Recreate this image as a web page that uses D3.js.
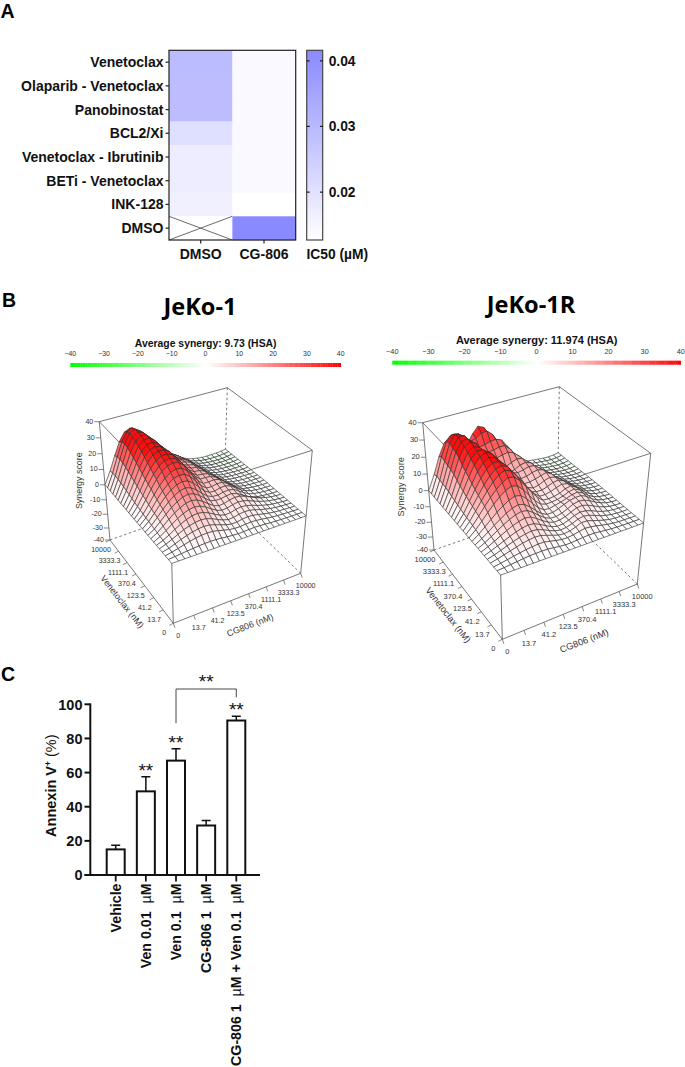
<!DOCTYPE html>
<html><head><meta charset="utf-8">
<script src="https://cdn.jsdelivr.net/npm/d3@7/dist/d3.min.js"></script>
<style>html,body{margin:0;padding:0;background:#fff}svg{display:block}text{font-family:"Liberation Sans",Arial,sans-serif}</style>
</head><body><svg id="c" width="685" height="1067"></svg>
<script>
// Panel A
const heatRows=["Venetoclax","Olaparib - Venetoclax","Panobinostat","BCL2/Xi","Venetoclax - Ibrutinib","BETi - Venetoclax","INK-128","DMSO"];
const heatCols=["DMSO","CG-806"];
const ic50Dmso=[0.0295,0.0292,0.0292,0.0205,0.0172,0.0172,0.0165,null];
const ic50Cg806=[0.0142,0.0142,0.0142,0.0142,0.0142,0.0142,0.0128,0.0416];
const ic50Ticks=[0.02,0.03,0.04];
// Panel B
const doseLabels=["0","13.7","41.2","123.5","370.4","1111.1","3333.3","10000"];
const synergyTicks=[-40,-30,-20,-10,0,10,20,30,40];
const jeko1Scores=[
[0,0,0,0,0,0,0,0,0,0,0,0,0,0,0,0,0,0,0,0,0,0,0,0,0],
[0,.3,.7,1.1,1.4,1.7,1.9,2,1.9,1.6,1.2,.9,.7,.8,1,1.1,1,.8,.5,.3,.2,.1,0,0,0],
[0,.8,1.7,2.7,3.6,4.3,4.8,5,4.8,4.1,3.2,2.4,1.9,1.9,2.2,2.4,2.2,1.8,1.3,.9,.6,.4,.2,.1,0],
[0,1,2.4,3.8,5,6,6.7,7,6.7,5.7,4.5,3.3,2.6,2.7,3.3,3.7,3.4,2.8,2,1.3,.8,.5,.3,.1,0],
[0,1.4,3.1,4.9,6.5,7.7,8.6,9,8.6,7.4,5.8,4.3,3.4,3.6,4.4,4.9,4.6,3.8,2.8,1.9,1.2,.7,.4,.2,0],
[0,1.7,3.7,5.9,7.9,9.5,10.6,11,10.5,9,7.1,5.3,4.3,4.6,5.5,6,5.6,4.7,3.5,2.4,1.5,.9,.5,.2,0],
[0,2,4.4,7,9.4,11.2,12.5,13,12.4,10.7,8.5,6.4,5.3,5.6,6.5,7.1,6.7,5.7,4.3,3,1.9,1.1,.6,.2,0],
[0,2.3,5.1,8.1,10.8,12.9,14.4,15,14.3,12.3,9.8,7.5,6.2,6.5,7.5,8.1,7.8,6.6,5,3.5,2.2,1.3,.6,.2,0],
[0,2.6,5.8,9.2,12.2,14.6,16.3,17,16.2,14,11.2,8.6,7.6,7.6,8.3,8.6,7.6,5.6,3.6,2,1.1,.6,.3,.1,0],
[0,2.9,6.5,10.3,13.7,16.3,18.2,19,18,15.6,12.5,9.6,8.2,8,8.7,9,8.3,6.2,4,2.2,1.2,.7,.3,.1,0],
[0,3.2,7.1,11.3,15.1,18,20.1,21,20.4,18,14.6,11,8.9,8.7,9.6,9.8,8.6,6.4,4,2.2,1.2,.6,.3,.1,0],
[0,3.5,7.8,12.4,16.6,19.8,22.1,23,22.6,20.2,16.4,12.4,9.8,9.6,10.3,10.2,8.4,5.9,3.5,1.8,1,.5,.2,0,0],
[0,3.8,8.5,13.5,18,21.5,24,25,24.6,22,18,13.6,10.8,10.7,11,10.2,7.9,5.1,2.8,1.4,.7,.3,.1,0,0],
[0,4.3,9.6,15.1,20,23.8,26.2,27,26.4,23.4,19,14.6,11.7,11.7,11.3,9.7,7,4.3,2.2,1,.4,.1,0,-.1,-.1],
[0,4.7,10.4,16.2,21.4,25.2,27.4,28,27,23.8,19.2,14.8,12.3,12,11.2,9.1,6.2,3.6,1.7,.7,.2,-.1,-.2,-.3,-.3],
[0,5.2,11.3,17.5,23,26.8,28.8,29,27.6,24,19.2,15,12.8,12.5,11,8.4,5.4,3,1.3,.4,0,-.3,-.4,-.5,-.4],
[0,5.8,12.4,19,24.7,28.5,30,29.7,27.8,23.6,19,15,13.2,12.7,10.6,7.6,4.6,2.4,.9,.1,-.2,-.5,-.6,-.7,-.5],
[0,6.3,13.4,20.5,26.4,30,31,30,27,22.4,17.9,14.5,13.3,12.5,10,6.8,3.9,1.8,.5,-.2,-.5,-.7,-.8,-.9,-.6],
[0,6.8,14.5,22,28,31.4,32,30.2,26.6,21.8,17.3,14.2,13.5,12.3,9.6,6.3,3.4,1.4,.2,-.4,-.8,-1,-1,-1,-.7],
[0,7.4,15.7,23.6,29.6,32.6,32.8,30.2,26,20.9,16.5,13.7,13,11.8,9,5.7,2.9,1,-.1,-.7,-1,-1.2,-1.2,-1.1,-.8],
[0,7.8,16.6,24.8,30.7,33.5,33,29.6,24.9,19.8,15.4,13,12,10.8,8.1,5,2.4,.6,-.4,-1,-1.3,-1.4,-1.4,-1.3,-.9],
[0,8.2,17.5,26,31.8,34,32.6,28.6,23.4,18.2,14.2,12,11,9.9,7.3,4.3,1.8,.2,-.7,-1.3,-1.5,-1.6,-1.6,-1.4,-1],
[0,8.5,18,26.7,32.3,34,31.8,27,21.7,16.6,12.9,11,10,8.9,6.4,3.6,1.3,-.1,-1,-1.5,-1.8,-1.9,-1.9,-1.6,-1.1],
[0,8.3,17.6,26,31.4,33,30.6,25.6,20,15,11.5,9.8,9,7.8,5.4,2.8,.8,-.4,-1.2,-1.7,-2,-2,-2,-1.7,-1.2],
[0,7.8,16.5,24.4,29.5,31,28.6,23.6,18,13.2,9.9,8.4,8,6.6,4.4,2,.3,-.7,-1.4,-1.9,-2.1,-2.1,-2,-1.8,-1.3]];
const jeko1RScores=[
[0,0,0,0,0,0,0,0,0,0,0,0,0,0,0,0,0,0,0,0,0,0,0,0,0],
[0,.3,.7,1.1,1.5,1.8,1.9,2,1.9,1.5,1,.7,.7,1,1.3,1.5,1.4,1.1,.7,.4,.2,.1,0,0,0],
[0,.6,1.3,2,2.6,3.2,3.6,3.9,3.9,3.1,2.3,1.7,1.6,2,2.8,3.4,3.1,2.5,1.7,1,.5,.2,.1,0,0],
[0,.9,1.9,2.9,3.9,4.8,5.4,5.8,5.6,4.5,3.3,2.2,1.8,2.2,3.4,4.8,4.6,3.6,2.5,1.5,.7,.3,.1,0,0],
[0,1.1,2.4,3.7,4.9,6,6.8,7.3,7,5.7,4.1,2.7,2,2.3,3.4,4.8,5.4,4.8,3.5,2.2,1.2,.5,.2,0,0],
[0,1.4,2.9,4.4,5.9,7.2,8.2,8.8,8.4,6.8,4.9,3.2,2.2,2.4,3.5,5,5.9,5.5,4.4,2.9,1.7,.8,.3,.1,0],
[0,1.7,3.5,5.4,7.2,8.8,10,10.8,10.3,8.3,5.9,3.8,2.6,2.7,3.6,5.1,6.5,6.8,5.8,4.2,2.6,1.3,.5,.1,0],
[0,2,4.2,6.4,8.5,10.4,11.9,12.7,12.1,9.8,7,4.5,3,2.9,3.7,5.2,6.8,7.5,6.9,5.4,3.5,1.9,.8,.2,0],
[0,2.3,4.8,7.4,9.8,12,13.7,14.7,13.8,11.2,8,5,3.4,3.4,4.5,5.9,7.2,7.8,7.8,6.2,3.6,1.8,.8,.3,0],
[0,2.8,5.8,8.9,11.8,14.4,16.4,17.7,17,14,10.2,6.6,4.2,3.8,4.6,5.4,6.4,7.6,8,6.4,3.8,1.9,.8,.3,0],
[0,3.4,7.1,10.9,14.5,17.6,20.1,21.6,20.6,17.3,13,8.8,5.7,4.5,4.7,5.1,6,7.4,8,6.4,3.9,1.9,.8,.3,0],
[0,3.8,8.1,12.4,16.5,20,22.8,24.6,23.9,20.8,16.5,11.9,7.9,5,4.7,5,5.8,7.4,8,6.2,3.7,1.8,.7,.2,0],
[0,4.2,9,13.8,18.4,22.4,25.2,27,25.6,22,17.3,12.4,8.2,5.4,5.4,6.1,7.3,8.3,7.6,5.4,3,1.4,.5,.1,0],
[0,4.5,9.8,15,19.9,24,26.8,28,26.4,22,16.5,11.5,7.5,6.3,6.2,7.2,8.6,9,7.4,4.8,2.4,1,.3,0,-.1],
[0,4.9,10.8,16.5,21.9,26,28.5,28.5,25.8,20.7,15.4,10.7,8,6.7,7.3,8.9,9.8,9,6.6,3.8,1.8,.6,.1,-.2,-.2],
[0,5.4,11.7,18,23.8,27.8,30,29,25.5,20,14.9,10.2,8.5,8.4,9.2,10.1,11,9,5.8,3,1.3,.3,-.1,-.4,-.3],
[0,6,12.9,19.8,25.8,29.6,31,29.5,25.4,19.8,15.1,11.7,9.7,10,11.2,11.8,10.8,8,4.8,2.3,.8,0,-.4,-.6,-.4],
[0,6.6,14,21.4,27.5,31,31,28.5,24,18.6,14.8,12.1,11.4,12,13,12.6,10,6.6,3.6,1.6,.3,-.3,-.7,-.8,-.6],
[0,7.2,15.4,23,29.4,32,30.4,26,20.5,15.9,12.4,10.6,11.3,13.1,13.7,12.4,9,5.6,2.8,1,0,-.6,-.9,-1,-.7],
[0,8,17,25.5,31,33,31,25,20.5,15.9,12.8,12.5,13.7,15,14.4,11.4,7.6,4.2,1.8,.4,-.4,-.9,-1.2,-1.2,-.8],
[0,8.5,18,27,32,33,29.7,23.4,20.4,17.5,16.8,17.6,18.2,17,14,10,6,3,1.2,-.1,-.8,-1.2,-1.4,-1.3,-.9],
[0,8.7,18.5,27.5,33,33,29,23,20.6,19.4,19.6,20.5,20.4,17.4,12.6,8.2,4.6,2.2,.6,-.4,-1,-1.4,-1.6,-1.5,-1],
[0,8.9,19,28.5,33,31.4,27,23,21.5,22,23,23.4,22,17.5,12,6.8,3.6,1.5,.2,-.7,-1.3,-1.7,-1.8,-1.6,-1.1],
[0,9.5,20,28,31,30.5,27,24,25,27,27.5,24.5,18.5,12.5,7.5,3.5,1.4,.3,-.3,-.8,-1.2,-1.6,-1.9,-1.7,-1.2],
[0,8.5,18,25,28,26.5,22,21,26,29.5,28,21,13.5,8,4.5,2.2,.8,0,-.5,-1,-1.4,-1.8,-2,-1.8,-1.3]];
// Panel C
const barLabels=["Vehicle","Ven 0.01  µM","Ven 0.1  µM","CG-806 1  µM","CG-806 1  µM + Ven 0.1  µM"];
const annexinMeans=[15,49,67,29,90.5];
const annexinUpper=[17.5,57.5,74,32,93];
const annexinStars=["","**","**","",  "**"];
const annexinTicks=[0,20,40,60,80,100];

const svg=d3.select("#c");
const bold=(sel,size)=>sel.attr("font-weight","bold").attr("font-size",size).attr("fill","#111");
[["A",.5,18],["B",2,307],["C",1,681]].forEach(([t,x,y])=>svg.append("text").text(t).attr("x",x).attr("y",y)
  .attr("font-weight","bold").attr("font-size",19.5).attr("fill","#000"));

/* ---- Panel A ---- */
{
 const x=d3.scaleBand().domain(heatCols).range([169,295.7]);
 const y=d3.scaleBand().domain(heatRows).range([50.3,240]);
 const c=d3.scaleLinear().domain([0.0127,0.0416]).range(["#ffffff","#8a8aff"]);
 const g=svg.append("g");
 heatRows.forEach((r,i)=>{
  [ic50Dmso[i],ic50Cg806[i]].forEach((v,k)=>{
   const X=x(heatCols[k]),Y=y(r);
   g.append("rect").attr("x",X).attr("y",Y).attr("width",x.bandwidth()+.3).attr("height",y.bandwidth()+.3).attr("fill",v==null?"#fff":c(v));
   if(v==null){
    g.append("path").attr("d",`M${X},${Y}L${X+x.bandwidth()},${Y+y.bandwidth()}M${X},${Y+y.bandwidth()}L${X+x.bandwidth()},${Y}`).attr("stroke","#444").attr("stroke-width",.8).attr("fill","none");
   }
  });
  g.append("line").attr("x1",165.5).attr("x2",169).attr("y1",y(r)+y.bandwidth()/2).attr("y2",y(r)+y.bandwidth()/2).attr("stroke","#222").attr("stroke-width",1.2);
  g.append("text").text(r).attr("x",163.5).attr("y",y(r)+y.bandwidth()/2).attr("dy",".36em").attr("text-anchor","end").call(bold,14);
 });
 heatCols.forEach(k=>{
  const cx=x(k)+x.bandwidth()/2;
  g.append("line").attr("x1",cx).attr("x2",cx).attr("y1",240).attr("y2",243.5).attr("stroke","#222").attr("stroke-width",1.2);
  g.append("text").text(k).attr("x",cx).attr("y",254).attr("dy",".36em").attr("text-anchor","middle").call(bold,14);
 });
 g.append("rect").attr("x",169).attr("y",50.3).attr("width",126.7).attr("height",189.7).attr("fill","none").attr("stroke","#222").attr("stroke-width",1.2);
 const cy=d3.scaleLinear().domain([0.0127,0.0416]).range([240,50.3]);
 const gradId="icGrad";
 const grad=svg.append("defs").append("linearGradient").attr("id",gradId).attr("x1",0).attr("x2",0).attr("y1",1).attr("y2",0);
 grad.append("stop").attr("offset",0).attr("stop-color","#ffffff");
 grad.append("stop").attr("offset",1).attr("stop-color","#8a8aff");
 g.append("rect").attr("x",306.7).attr("y",50.3).attr("width",16).attr("height",189.7).attr("fill",`url(#${gradId})`).attr("stroke","#444").attr("stroke-width",1.2);
 ic50Ticks.forEach(t=>{
  g.append("path").attr("d",`M306.7,${cy(t)}h3M320,${cy(t)}h3`).attr("stroke","#222").attr("stroke-width",1.2);
  g.append("text").text(t.toFixed(2)).attr("x",328.7).attr("y",cy(t)).attr("dy",".36em").call(bold,13.8);
 });
 g.append("text").text("IC50 (µM)").attr("x",337.3).attr("y",254).attr("dy",".36em").attr("text-anchor","middle").call(bold,13.8);
}

/* ---- Panel B ---- */
const keyColor=d3.scaleLinear().domain([-40,0,40]).range(["#00ff00","#ffffff","#ff0000"]);
const warm=d3.scalePow().exponent(1.35).domain([0,29]).range(["#ffffff","#ff0c0c"]).clamp(true);
const cool=d3.scaleLinear().domain([0,-14]).range(["#ffffff","#99ff99"]).clamp(true);
const cellColor=z=>z>=0?warm(z):cool(z);
function surface(o){
 const g=svg.append("g");
 const n=o.scores.length-1;
 const cellU=d3.scalePow().exponent(.94).domain([0,n]).range([0,1]);
 const doseU=d3.scalePow().exponent(.94).domain([0,doseLabels.length-1]).range([0,1]);
 const zS=d3.scalePow().exponent(1.1).domain([0,80]).range([0,1]);
 const lerp=(a,b,t)=>[a[0]+(b[0]-a[0])*t,a[1]+(b[1]-a[1])*t];
 const P=(u,v,z)=>{
  const t=zS(z+40),k=o.box;
  const lo=lerp(lerp(k.A,k.B,u),lerp(k.C,k.D,u),v);
  const hi=lerp(lerp(k.H,k.G,u),lerp(k.E,k.F,u),v);
  return lerp(lo,hi,t);
 };
 const line=(a,b,dash)=>g.append("line").attr("x1",a[0]).attr("y1",a[1]).attr("x2",b[0]).attr("y2",b[1])
   .attr("stroke","#555").attr("stroke-width",.8).attr("stroke-dasharray",dash?"2.5,2.5":null);
 const k=o.box;
 line(k.C,k.D,1);line(k.B,k.D,1);line(k.F,k.D,1);
 line(k.E,k.F);line(k.F,k.G);line(k.G,k.H);line(k.E,k.H);line(k.C,k.E);line(k.B,k.G);line(k.A,k.C);line(k.A,k.B);line(k.A,k.H);
 const cells=[];
 for(let j=0;j<n;j++)for(let i=0;i<n;i++)cells.push([i,j]);
 cells.sort((a,b)=>(b[0]+b[1])-(a[0]+a[1]));
 const s=o.scores;
 g.selectAll("path.cell").data(cells).join("path").attr("class","cell")
  .attr("d",([i,j])=>{
   const q=[[i,j],[i+1,j],[i+1,j+1],[i,j+1]].map(([a,b])=>P(cellU(a),cellU(b),s[b][a]));
   return "M"+q.map(p=>p[0].toFixed(2)+","+p[1].toFixed(2)).join("L")+"Z";
  })
  .attr("fill",([i,j])=>cellColor((s[j][i]+s[j][i+1]+s[j+1][i]+s[j+1][i+1])/4))
  .attr("stroke","#2e2e2e").attr("stroke-width",.62).attr("stroke-linejoin","round");
 const small=(sel)=>sel.attr("font-size",o.fs).attr("fill","#333");
 synergyTicks.forEach(t=>{
  const p=P(0,1,t);
  g.append("line").attr("x1",p[0]-5).attr("x2",p[0]).attr("y1",p[1]).attr("y2",p[1]).attr("stroke","#555").attr("stroke-width",.7);
  g.append("text").text(t).attr("x",p[0]-6).attr("y",p[1]-.5).attr("dy",".35em").attr("text-anchor","end").call(small);
 });
 doseLabels.forEach((d,i)=>{
  const u=doseU(i);
  const px=P(u,0,-40), py=P(0,u,-40);
  g.append("line").attr("x1",px[0]).attr("y1",px[1]).attr("x2",px[0]+1.6).attr("y2",px[1]+4.5).attr("stroke","#555").attr("stroke-width",.7);
  g.append("line").attr("x1",py[0]).attr("y1",py[1]).attr("x2",py[0]-4).attr("y2",py[1]+2).attr("stroke","#555").attr("stroke-width",.7);
  g.append("text").text(d).attr("x",px[0]+5).attr("y",px[1]+12.5).attr("dy",".35em").attr("text-anchor","middle").call(small);
  g.append("text").text(d).attr("x",py[0]-9).attr("y",py[1]+9.5).attr("dy",".35em").attr("text-anchor","middle").call(small);
 });
 const rot=(t,c,a)=>g.append("text").text(t).attr("transform",`translate(${c[0]},${c[1]}) rotate(${a})`).attr("text-anchor","middle").attr("dy",".35em").attr("font-size",o.fs+1.8).attr("fill","#333");
 rot("Synergy score",o.zTitle,-90);
 rot("Venetoclax (nM)",o.yTitle,52);
 rot("CG806 (nM)",o.xTitle,-21);
 g.append("text").text(o.name).attr("x",o.nameX).attr("y",o.nameY).attr("text-anchor","middle").style("font-family","'Open Sans'").attr("font-weight","bold").attr("font-size",23.6).attr("fill","#000");
 g.append("text").text(o.title).attr("x",o.titleX).attr("y",o.titleY).attr("dy",".35em").attr("text-anchor","middle").attr("font-weight","bold").attr("font-size",o.titleSize).attr("fill","#111");
 const kx=d3.scaleLinear().domain([-40,40]).range(o.keyX);
 const vals=d3.range(-40,40,.5);
 g.selectAll("rect.key").data(vals).join("rect").attr("class","key").attr("x",d=>kx(d)).attr("y",o.keyY).attr("width",kx(.5)-kx(0)+.3).attr("height",4).attr("fill",d=>keyColor(d));
 synergyTicks.forEach(t=>g.append("text").text(t<0?"−"+Math.abs(t):t).attr("x",kx(t)).attr("y",o.keyY-9).attr("dy",".35em").attr("text-anchor","middle").attr("font-size",o.fs-.2).attr("fill","#333"));
}
surface({scores:jeko1Scores,name:"JeKo-1",nameX:200,nameY:315,title:"Average synergy: 9.73 (HSA)",titleSize:10.4,titleX:205.7,titleY:343.5,keyX:[70.3,340.7],keyY:363,fs:7.1,
 box:{A:[173.3,623.3],B:[300.7,573.3],C:[110,540],D:[224,499.3],E:[99.3,421.7],F:[227.3,387.7],G:[312.3,450.3],H:[170,495]},
 zTitle:[79,480.7],yTitle:[122.3,601.7],xTitle:[250,625]});
surface({scores:jeko1RScores,name:"JeKo-1R",nameX:531,nameY:313,title:"Average synergy: 11.974 (HSA)",titleSize:11,titleX:536.7,titleY:340,keyX:[392.3,680.7],keyY:360.7,fs:7.5,
 box:{A:[502.3,639.3],B:[637.3,584],C:[434,550],D:[557.3,506.7],E:[422.7,422.7],F:[559.3,386.7],G:[650.7,453.3],H:[498.7,501.7]},
 zTitle:[401,486.7],yTitle:[448.3,615],xTitle:[584,640.7]});

/* ---- Panel C ---- */
{
 const g=svg.append("g");
 const x=d3.scalePoint().domain(barLabels).range([115.7,236.3]);
 const y=d3.scaleLinear().domain([0,100]).range([875,704.3]);
 const ink="#111";
 barLabels.forEach((l,i)=>{
  const cx=x(l);
  g.append("path").attr("d",`M${cx},${y(annexinMeans[i])}V${y(annexinUpper[i])}M${cx-4.5},${y(annexinUpper[i])}h9`).attr("stroke",ink).attr("stroke-width",1.5).attr("fill","none");
  g.append("rect").attr("x",cx-9).attr("width",18).attr("y",y(annexinMeans[i])).attr("height",875-y(annexinMeans[i])).attr("fill","#fff").attr("stroke",ink).attr("stroke-width",2);
  g.append("line").attr("x1",cx).attr("x2",cx).attr("y1",875).attr("y2",881.5).attr("stroke",ink).attr("stroke-width",1.8);
  const t=g.append("text").attr("transform",`translate(${cx},883.5) rotate(-90)`).attr("text-anchor","end").attr("dy",".36em").call(bold,14.2).style("white-space","pre");
  l.split("µ").forEach((part,k)=>{
   if(k>0)t.append("tspan").text("µ").attr("font-weight","normal");
   t.append("tspan").text(part);
  });
  if(annexinStars[i])g.append("text").text(annexinStars[i]).attr("x",cx).attr("y",y(annexinUpper[i])).attr("text-anchor","middle").attr("font-size",19).attr("fill",ink);
 });
 g.append("path").attr("d",`M90.3,875V703.4`).attr("stroke",ink).attr("stroke-width",2);
 g.append("path").attr("d",`M84.5,875H260`).attr("stroke",ink).attr("stroke-width",2);
 annexinTicks.forEach(t=>{
  g.append("line").attr("x1",84.5).attr("x2",90.3).attr("y1",y(t)).attr("y2",y(t)).attr("stroke",ink).attr("stroke-width",2);
  g.append("text").text(t).attr("x",82.5).attr("y",y(t)).attr("dy",".36em").attr("text-anchor","end").call(bold,14.5);
 });
 const yt=g.append("text").attr("transform","translate(50.7,785.7) rotate(-90)").attr("text-anchor","middle").attr("dy",".36em").call(bold,14.5);
 yt.append("tspan").text("Annexin V");
 yt.append("tspan").text("+").attr("font-size",8.5).attr("dy",-5);
 yt.append("tspan").text(" (%)").attr("dy",5).attr("font-weight","normal");
 const x3=x(barLabels[2]),x5=x(barLabels[4]);
 g.append("path").attr("d",`M${x3},723.3V689H${x5}V697.3`).attr("fill","none").attr("stroke","#333").attr("stroke-width",.9);
 g.append("text").text("**").attr("x",(x3+x5)/2).attr("y",688).attr("text-anchor","middle").attr("font-size",19).attr("fill",ink);
}
</script></body></html>
